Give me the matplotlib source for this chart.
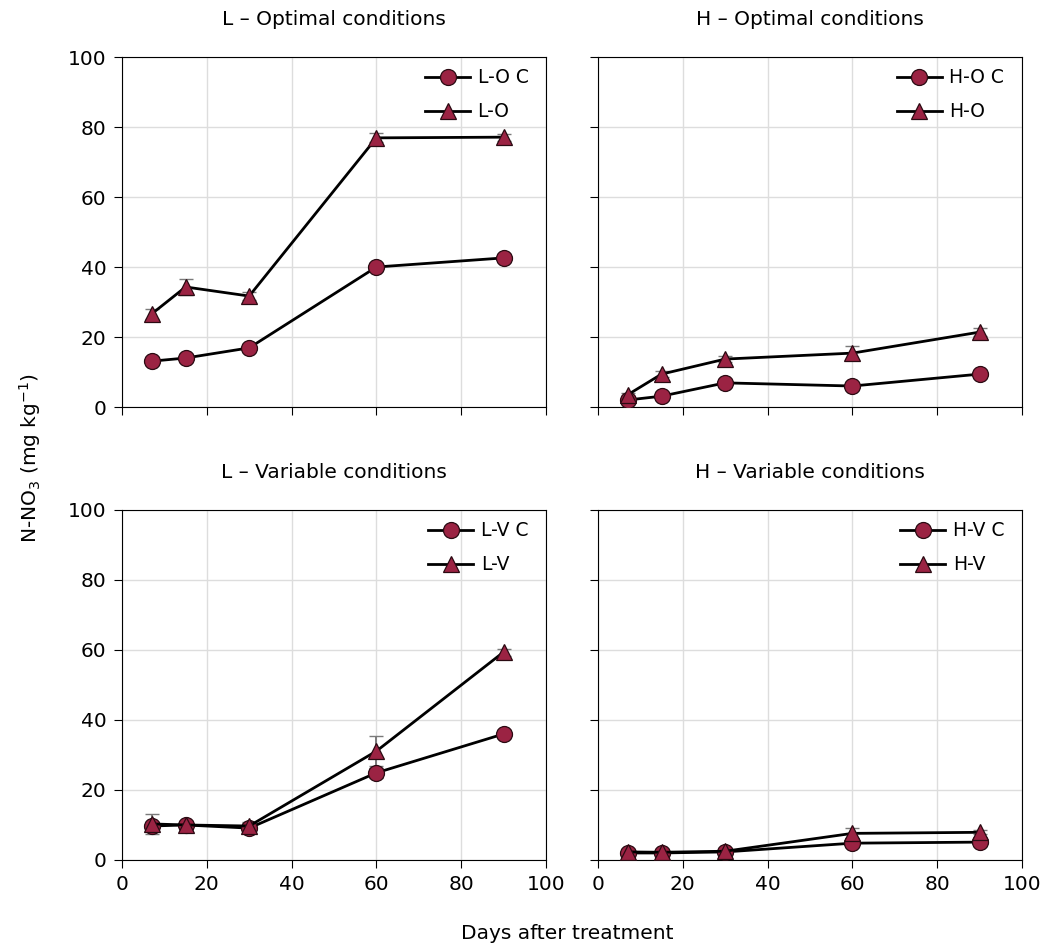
import matplotlib
matplotlib.use("Agg")
import matplotlib.pyplot as plt

plt.rcParams['font.family'] = ['DejaVu Sans']

days = [7, 15, 30, 60, 90]

# L - optimal
lo_c = [13.1, 14.0, 16.9, 40.0, 42.6]
lo_c_err = [0.5, 0.5, 0.6, 0.8, 0.8]
lo = [26.6, 34.3, 31.7, 76.9, 77.1]
lo_err = [1.5, 2.2, 1.2, 1.3, 1.0]

# H - optimal
ho_c = [2.0, 3.1, 6.9, 6.0, 9.4]
ho_c_err = [0.3, 0.4, 0.5, 0.5, 0.5]
ho = [3.5, 9.4, 13.7, 15.4, 21.4]
ho_err = [0.6, 0.8, 0.8, 2.1, 1.2]

# L - variable
lv_c = [9.7, 10.0, 9.1, 24.9, 36.0]
lv_c_err = [1.0, 0.6, 1.5, 1.5, 0.8]
lv = [10.3, 10.0, 9.7, 31.1, 59.4]
lv_err = [2.8, 0.8, 1.2, 4.2, 1.0]

# H - variable
hv_c = [2.0, 2.0, 2.3, 4.8, 5.1]
hv_c_err = [0.3, 0.3, 0.3, 0.5, 0.5]
hv = [2.3, 2.2, 2.5, 7.6, 7.9]
hv_err = [0.3, 0.3, 0.3, 1.4, 0.6]

panels = [
    ("L \u2013 Optimal conditions", "L-O C", lo_c, lo_c_err, "L-O", lo, lo_err),
    ("H \u2013 Optimal conditions", "H-O C", ho_c, ho_c_err, "H-O", ho, ho_err),
    ("L \u2013 Variable conditions", "L-V C", lv_c, lv_c_err, "L-V", lv, lv_err),
    ("H \u2013 Variable conditions", "H-V C", hv_c, hv_c_err, "H-V", hv, hv_err),
]

fig = plt.figure(figsize=(10.61, 9.47), dpi=100)
lefts = [0.115, 0.5636]
bottoms = [0.5702, 0.0919]
w, h = 0.3996, 0.3696

red = '#9b2343'

for i, (title, lab_c, yc, ec, lab_t, yt, et) in enumerate(panels):
    ax = fig.add_axes([lefts[i % 2], bottoms[i // 2], w, h])
    ax.errorbar(days, yc, yerr=ec, fmt='none', ecolor='#7a7a7a', elinewidth=1.4, capsize=5, zorder=2)
    ax.errorbar(days, yt, yerr=et, fmt='none', ecolor='#7a7a7a', elinewidth=1.4, capsize=5, zorder=2)
    ax.plot(days, yc, '-o', color='black', lw=2.0, markersize=11.5, markerfacecolor=red,
            markeredgecolor='#2a0a12', markeredgewidth=0.9, label=lab_c, zorder=3)
    ax.plot(days, yt, '-^', color='black', lw=2.0, markersize=11.5, markerfacecolor=red,
            markeredgecolor='#2a0a12', markeredgewidth=0.9, label=lab_t, zorder=4)
    ax.set_xlim(0, 100)
    ax.set_ylim(0, 100)
    ax.set_xticks(range(0, 101, 20))
    ax.set_yticks(range(0, 101, 20))
    ax.grid(True, color='#dddddd', lw=1)
    ax.set_axisbelow(True)
    ax.tick_params(direction='out', length=6, labelsize=14.5, pad=5)
    if i % 2 == 1:
        ax.tick_params(labelleft=False)
    if i // 2 == 0:
        ax.tick_params(labelbottom=False)
    ax.set_title(title, fontsize=14.5, pad=23)
    ax.legend(loc='upper right', frameon=False, fontsize=13.5, handlelength=2.4,
              handletextpad=0.4, labelspacing=0.8, borderaxespad=0.2,
              bbox_to_anchor=(0.985, 1.0))

fig.text(0.028, 0.516, 'N-NO$_3$ (mg kg$^{-1}$)', rotation=90, ha='center', va='center', fontsize=14.5)
fig.text(0.535, 0.014, 'Days after treatment', ha='center', va='center', fontsize=14.5)

fig.savefig('out.png', dpi=100)
